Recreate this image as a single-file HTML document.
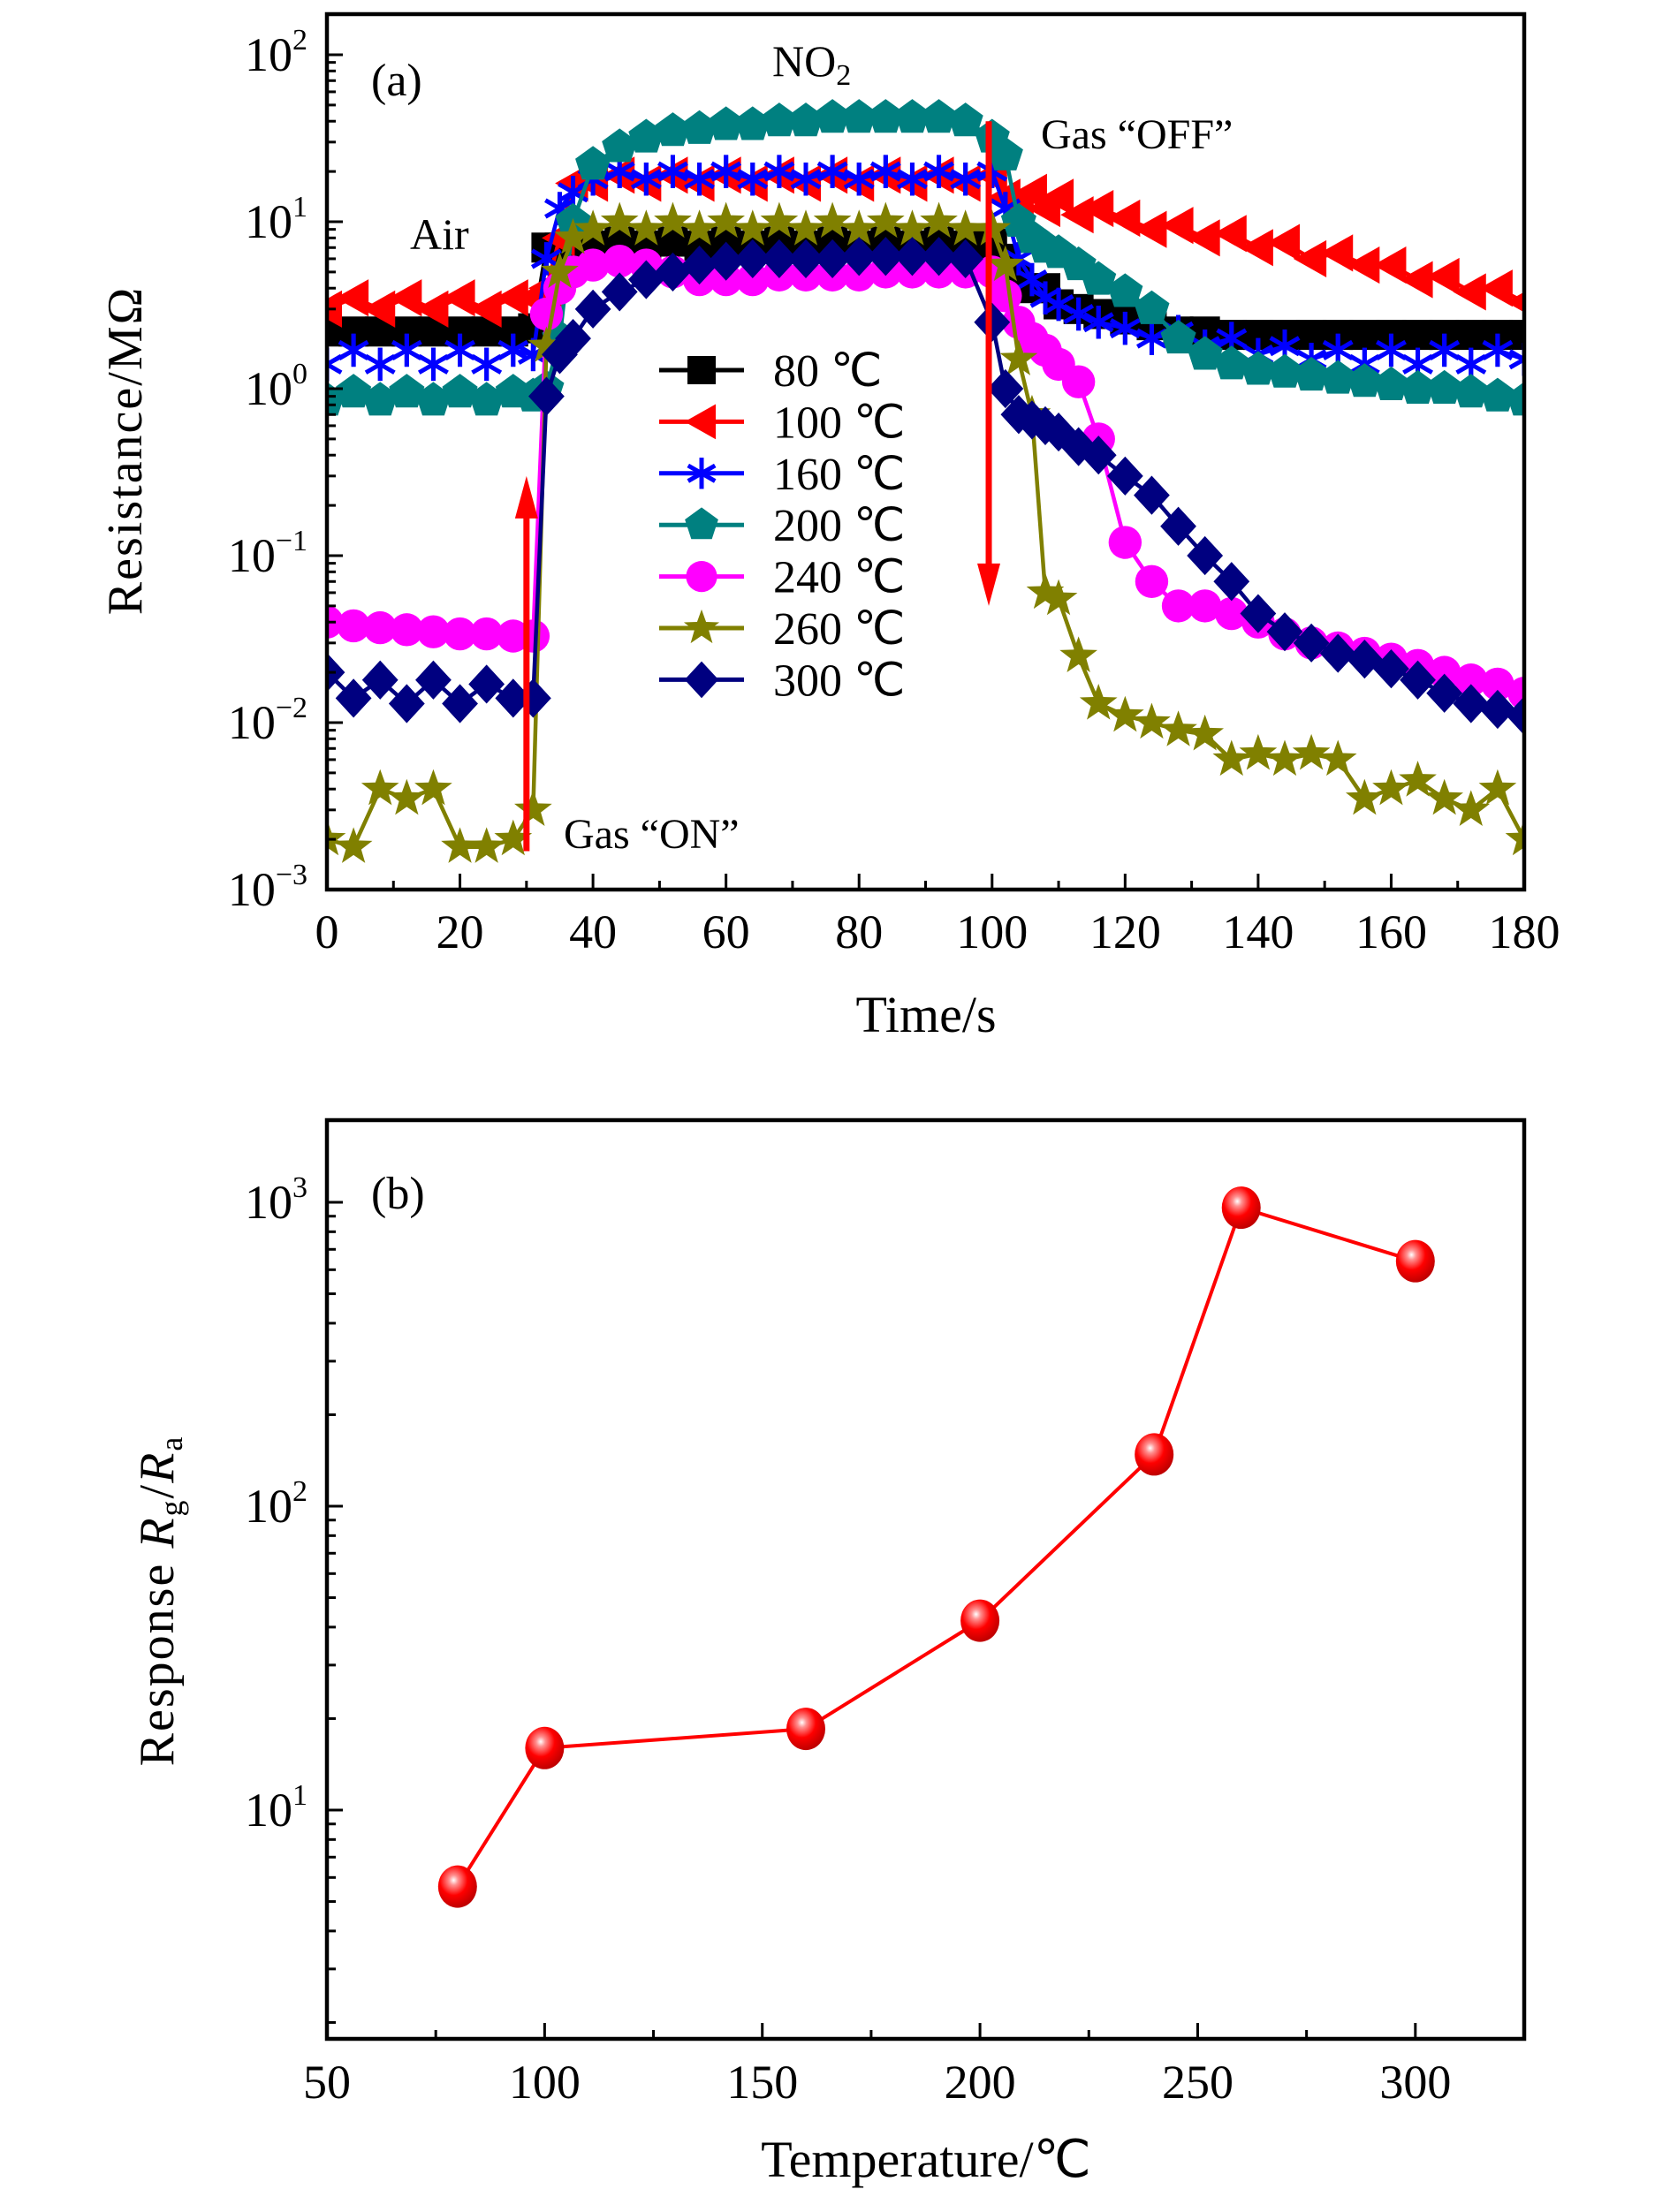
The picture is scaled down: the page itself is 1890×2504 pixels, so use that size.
<!DOCTYPE html>
<html><head><meta charset="utf-8"><style>
html,body{margin:0;padding:0;background:#fff;}
svg{display:block;font-family:"Liberation Serif",serif;}
</style></head><body>
<svg id="fig" width="1890" height="2504" viewBox="0 0 1890 2504" xmlns="http://www.w3.org/2000/svg"></svg>
<script>
// ---------- Panel (a) data ----------
const timesA = [0,4,8,12,16,20,24,28,31,33,35,37,40,44,48,52,56,60,64,68,72,76,80,84,88,92,96,100,102,104,106,108,110,113,116,120,124,128,132,136,140,144,148,152,156,160,164,168,172,176,180];
const seriesLabels = ["80 ℃","100 ℃","160 ℃","200 ℃","240 ℃","260 ℃","300 ℃"];
const r80  = [2.2,2.2,2.2,2.2,2.2,2.2,2.2,2.2, 2.3,7,7,7, 7.2,7.6,7.2,7.6,7.2,7.6,7.2,7.6,7.2,7.6,7.2,7.6,7.2,7.6,7.2,7.4, 6,4.5,4,4,3.2, 3,2.8, 2.6,2.4,2.2,2.2,2.1,2.1,2.1,2.1,2.1,2.1,2.1,2.1,2.1,2.1,2.1,2.1];
const r100 = [3.0,3.5,3.0,3.5,3.0,3.5,3.0,3.5, 3.5,4,8,17, 17,19,17,19,17,19,17,19,17,19,17,19,17,19,17,19, 14,13,15,12,14, 11,12, 10.5,9,9.5,8,8.5,7,7.5,6,6.5,5.5,5.5,4.5,4.7,3.8,4,3.3];
const r160 = [1.4,1.7,1.4,1.7,1.4,1.7,1.4,1.7, 1.6,6,12,15, 18,20,18,20,18,20,18,20,18,20,18,20,18,20,18,20, 12,6,4.5,3.5,3.2, 2.8,2.5, 2.3,2,2.2,1.8,2,1.6,1.8,1.5,1.7,1.4,1.7,1.4,1.7,1.4,1.7,1.5];
const r200 = [0.85,0.95,0.85,0.95,0.85,0.95,0.85,0.95, 0.9,1.0,2,10, 22,28,32,35,36,38,38,40,40,42,42,42,42,42,40,32, 25,10,8,7,6.5, 5.5,4.5, 3.8,3,2,1.6,1.4,1.3,1.25,1.2,1.15,1.1,1.05,1.0,1.0,0.95,0.9,0.85];
const r240 = [0.04,0.038,0.037,0.036,0.035,0.034,0.034,0.033, 0.033,2.8,4,5, 5.5,5.8,5.5,5,4.5,4.5,4.5,4.8,4.8,4.8,4.8,5,5,5,5,5, 3.6,2.5,2,1.7,1.4, 1.1,0.5, 0.12,0.07,0.05,0.05,0.045,0.04,0.034,0.03,0.028,0.026,0.024,0.022,0.02,0.018,0.017,0.015];
const r260 = [0.002,0.0018,0.004,0.0035,0.004,0.0018,0.0018,0.002, 0.003,1.8,5,8, 9,10,9,10,9,10,9,10,9,10,9,10,9,10,9,9, 5.5,1.5,0.7,0.06,0.055, 0.025,0.013, 0.011,0.01,0.009,0.0085,0.006,0.0065,0.006,0.0065,0.006,0.0035,0.004,0.0045,0.0035,0.003,0.004,0.002];
const r300 = [0.02,0.014,0.018,0.013,0.018,0.013,0.017,0.014, 0.014,0.9,1.6,2, 3,3.8,4.5,5,5.5,5.8,6,6,6,6,6.2,6.2,6.2,6.2,6,2.5, 1,0.7,0.65,0.6,0.55, 0.45,0.4, 0.3,0.23,0.15,0.1,0.07,0.045,0.035,0.03,0.026,0.024,0.021,0.018,0.015,0.013,0.012,0.011];
const xTicksA = [0,20,40,60,80,100,120,140,160,180];
const yDecadesA = [-3,-2,-1,0,1,2];

// ---------- Panel (b) data ----------
const tempsB = [80,100,160,200,240,260,300];
const respB = [5.6,16,18.5,42,148,960,640];
const xTicksB = [50,100,150,200,250,300];
const yDecadesB = [1,2,3];

const NS = "http://www.w3.org/2000/svg";
const svg = document.getElementById("fig");
function el(tag, attrs, parent){
  const e = document.createElementNS(NS, tag);
  for (const k in attrs) e.setAttribute(k, attrs[k]);
  (parent||svg).appendChild(e);
  return e;
}
function grp(name){
  const g = el("g", {});
  
  
  return g;
}

const A = {x0:370, x1:1725, y0:16, y1:1007};
const xA = t => A.x0 + t/180*(A.x1-A.x0);
const yA = v => A.y1 - (Math.log10(v)+3)*189;
const B = {x0:370, x1:1725, y0:1268, y1:2308};
const xB = T => B.x0 + (T-50)/275*(B.x1-B.x0);
const yB = v => 2049 - (Math.log10(v)-1)*344;

function decLabel(g, x, y, exp){
  const t = el("text", {x:x, y:y, "text-anchor":"end", "font-size":54}, g);
  
  
  const a = el("tspan", {}, t); a.textContent = "10";
  const b = el("tspan", {"font-size":34, dy:-24}, t); b.textContent = String(exp).replace("-", "−");
}

// ======== Panel A =========
const gA = grp("panel-a");
const defs = el("defs", {});
const cp = el("clipPath", {id:"clipA"}, defs);
el("rect", {x:A.x0, y:A.y0, width:A.x1-A.x0, height:A.y1-A.y0}, cp);
const rg = el("radialGradient", {id:"ball", cx:"0.4", cy:"0.35", r:"0.65"}, defs);
el("stop", {offset:"0", "stop-color":"#ffffff"}, rg);
el("stop", {offset:"0.18", "stop-color":"#ff9090"}, rg);
el("stop", {offset:"0.55", "stop-color":"#ff0000"}, rg);
el("stop", {offset:"1", "stop-color":"#c00000"}, rg);

const tkA = grp("axes-a-ticks");
xTicksA.forEach(t=>{
  el("line",{x1:xA(t),x2:xA(t),y1:A.y1,y2:A.y1-18,stroke:"#000","stroke-width":3},tkA);
  const lb = el("text",{x:xA(t),y:1073,"text-anchor":"middle","font-size":54},tkA);
  
  
  lb.textContent = t;
});
for(let t=10;t<180;t+=20) el("line",{x1:xA(t),x2:xA(t),y1:A.y1,y2:A.y1-10,stroke:"#000","stroke-width":3},tkA);
yDecadesA.forEach(d=>{
  const y = yA(Math.pow(10,d));
  el("line",{x1:A.x0,x2:A.x0+18,y1:y,y2:y,stroke:"#000","stroke-width":3},tkA);
  decLabel(tkA, 348, y+18, d);
  if (d<2) for(let m=2;m<=9;m++){ const yy=yA(m*Math.pow(10,d)); el("line",{x1:A.x0,x2:A.x0+10,y1:yy,y2:yy,stroke:"#000","stroke-width":3},tkA);}
});
[200].forEach(v=>{const yy=yA(v); if(yy>A.y0) el("line",{x1:A.x0,x2:A.x0+10,y1:yy,y2:yy,stroke:"#000","stroke-width":3},tkA);});

function marker(g, shape, x, y, color, s){
  let e;
  if(shape==="square") e = el("rect",{x:x-s*0.5,y:y-s*0.5,width:s,height:s,fill:color},g);
  else if(shape==="ltri") e = el("polygon",{points:`${x-s*0.6},${y} ${x+s*0.5},${y-s*0.62} ${x+s*0.5},${y+s*0.62}`,fill:color},g);
  else if(shape==="star6"){ e = el("g",{stroke:color,"stroke-width":5},g);
    for(let k=0;k<3;k++){const a=Math.PI/6+k*Math.PI/3; el("line",{x1:x-Math.cos(a)*s*0.55,y1:y-Math.sin(a)*s*0.55,x2:x+Math.cos(a)*s*0.55,y2:y+Math.sin(a)*s*0.55},e);} 
    el("line",{x1:x,y1:y-s*0.55,x2:x,y2:y+s*0.55},e);}
  else if(shape==="pent"){ let p=[]; for(let k=0;k<5;k++){const a=-Math.PI/2+k*2*Math.PI/5; p.push((x+Math.cos(a)*s*0.62)+","+(y+Math.sin(a)*s*0.62));} e=el("polygon",{points:p.join(" "),fill:color},g);}
  else if(shape==="circle") e = el("circle",{cx:x,cy:y,r:s*0.55,fill:color},g);
  else if(shape==="star5"){ let p=[]; for(let k=0;k<10;k++){const a=-Math.PI/2+k*Math.PI/5; const r=k%2?s*0.27:s*0.66; p.push((x+Math.cos(a)*r)+","+(y+Math.sin(a)*r));} e=el("polygon",{points:p.join(" "),fill:color},g);}
  else if(shape==="diamond") e = el("polygon",{points:`${x},${y-s*0.65} ${x+s*0.6},${y} ${x},${y+s*0.65} ${x-s*0.6},${y}`,fill:color},g);
  return e;
}

const seriesVals = [r80,r100,r160,r200,r240,r260,r300];
const colors = ["#000000","#ff0000","#0000ff","#008080","#ff00ff","#808000","#000080"];
const shapes = ["square","ltri","star6","pent","circle","star5","diamond"];
const names = ["series-80c","series-100c","series-160c","series-200c","series-240c","series-260c","series-300c"];
const plotA = el("g",{"clip-path":"url(#clipA)"},gA);
seriesVals.forEach((vals,i)=>{
  const g = el("g",{},plotA);
  
  
  const pts = vals.map((v,j)=>xA(timesA[j])+","+yA(v)).join(" ");
  el("polyline",{points:pts,fill:"none",stroke:colors[i],"stroke-width":4.5,"stroke-linejoin":"round"},g);
  vals.forEach((v,j)=>marker(g,shapes[i],xA(timesA[j]),yA(v),colors[i],34));
});

const arr = grp("gas-arrows");
function arrow(x,yFrom,yTo){
  const dir = yTo<yFrom?-1:1;
  el("line",{x1:x,x2:x,y1:yFrom,y2:yTo-dir*40,stroke:"#ff0000","stroke-width":7},arr);
  el("polygon",{points:`${x},${yTo} ${x-13},${yTo-dir*48} ${x+13},${yTo-dir*48}`,fill:"#ff0000"},arr);
}
arrow(xA(30), yA(0.0017), yA(0.3));
arrow(xA(99.5), yA(40), yA(0.05));

const leg = grp("legend-a");
seriesLabels.forEach((lab,i)=>{
  const y = 419 + i*58.4;
  const g = el("g",{},leg);
  
  
  el("line",{x1:746,x2:842,y1:y,y2:y,stroke:colors[i],"stroke-width":5},g);
  marker(g,shapes[i],794,y,colors[i],32);
  const t = el("text",{x:875,y:y+18,"font-size":52},g);
  t.textContent = lab;
});

const fA = el("rect",{x:A.x0,y:A.y0,width:A.x1-A.x0,height:A.y1-A.y0,fill:"none",stroke:"#000","stroke-width":4.5},gA);
 

function txt(name,x,y,s,size,anchor,rot){
  const t = el("text",{x:x,y:y,"font-size":size||48,"text-anchor":anchor||"start"});
  if(rot) t.setAttribute("transform",`rotate(-90 ${x} ${y})`);
  
  
  t.innerHTML = s;
  return t;
}
txt("panel-label-a",420,108,"(a)",52);
txt("no2-label",874,86,'NO<tspan font-size="34" dy="10">2</tspan>',50);
txt("air-label",464,282,"Air",50);
txt("gas-off-label",1178,168,"Gas “OFF”",48);
txt("gas-on-label",638,960,"Gas “ON”",48);
txt("x-axis-title-a",1048,1168,"Time/s",58,"middle");
txt("y-axis-title-a",160,510,"Resistance/MΩ",56,"middle",true).setAttribute("letter-spacing","2");

// ======== Panel B =========
const gB = grp("panel-b");
const tkB = grp("axes-b-ticks");
xTicksB.forEach(t=>{
  el("line",{x1:xB(t),x2:xB(t),y1:B.y1,y2:B.y1-18,stroke:"#000","stroke-width":3},tkB);
  const lb = el("text",{x:xB(t),y:2375,"text-anchor":"middle","font-size":54},tkB);
  
  
  lb.textContent = t;
});
for(let t=75;t<325;t+=50) el("line",{x1:xB(t),x2:xB(t),y1:B.y1,y2:B.y1-10,stroke:"#000","stroke-width":3},tkB);
yDecadesB.forEach(d=>{
  const y = yB(Math.pow(10,d));
  el("line",{x1:B.x0,x2:B.x0+18,y1:y,y2:y,stroke:"#000","stroke-width":3},tkB);
  decLabel(tkB, 348, y+18, d);
});
[0,1,2].forEach(d=>{for(let m=2;m<=9;m++){const v=m*Math.pow(10,d); const yy=yB(v); if(yy<B.y1 && yy>B.y0) el("line",{x1:B.x0,x2:B.x0+10,y1:yy,y2:yy,stroke:"#000","stroke-width":3},tkB);}});

const sB = el("g",{},gB);


el("polyline",{points:tempsB.map((T,i)=>xB(T)+","+yB(respB[i])).join(" "),fill:"none",stroke:"#ff0000","stroke-width":4},sB);
tempsB.forEach((T,i)=>{
  const c = el("ellipse",{cx:xB(T),cy:yB(respB[i]),rx:22,ry:24,fill:"url(#ball)"},sB);
  
  
});
const fB = el("rect",{x:B.x0,y:B.y0,width:B.x1-B.x0,height:B.y1-B.y0,fill:"none",stroke:"#000","stroke-width":4.5},gB);
 

txt("panel-label-b",420,1368,"(b)",52);
txt("x-axis-title-b",1048,2464,"Temperature/℃",58,"middle");
txt("y-axis-title-b",196,1812,'Response <tspan font-style="italic">R</tspan><tspan font-size="36" dy="10">g</tspan><tspan dy="-10">/</tspan><tspan font-style="italic">R</tspan><tspan font-size="36" dy="10">a</tspan>',56,"middle",true).setAttribute("letter-spacing","2");
</script>
</body></html>
